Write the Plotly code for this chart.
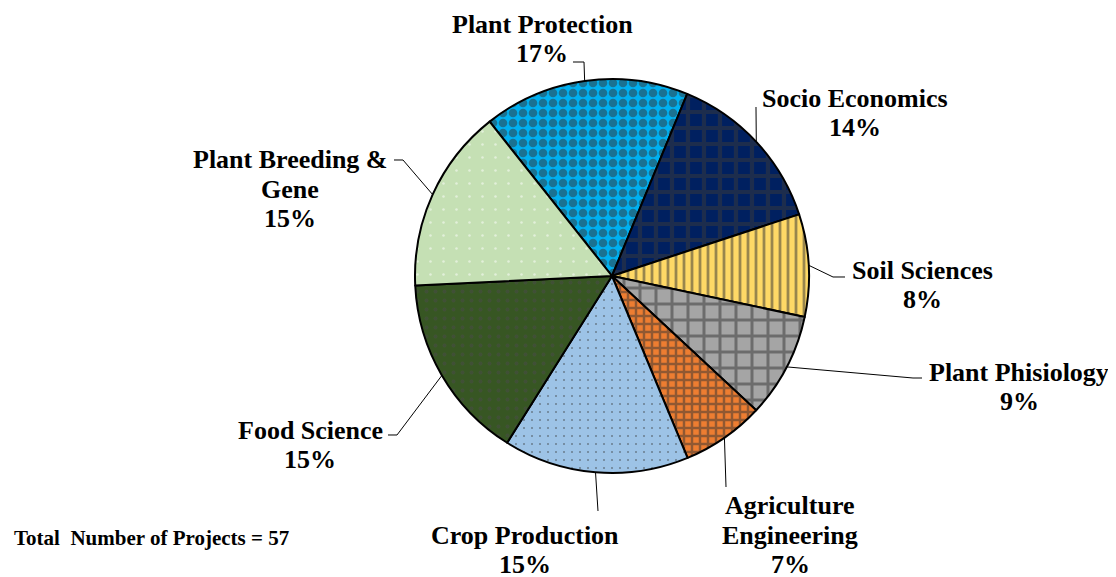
import math
import plotly.graph_objects as go

# ---------------- data ----------------
categories = ["Plant Protection", "Socio Economics", "Soil Sciences", "Plant Phisiology",
              "Agriculture Engineering", "Crop Production", "Food Science", "Plant Breeding & Gene"]
values = [16.9, 13.7, 8.4, 8.6, 6.8, 15.2, 15.3, 15.1]
label_lines = [["Plant Protection"], ["Socio Economics"], ["Soil Sciences"], ["Plant Phisiology"],
               ["Agriculture", "Engineering"], ["Crop Production"], ["Food Science"], ["Plant Breeding &", "Gene"]]
total_note = "Total&nbsp;&nbsp;Number of Projects = 57"

# ---------------- style / layout ----------------
W, H = 1116, 577
OFF = 8  # page offset of the figure
CX, CY, R = 612, 276, 197
ROT = -38.4
FONT = "Liberation Serif, Times New Roman, serif"
LS = 29.5

colors = ["#00B0F0", "#002060", "#FFD966", "#A5A5A5", "#ED7D31", "#9DC3E6", "#375623", "#C5E0B4"]
pat_shapes = [".", "+", "|", "+", "+", ".", ".", "."]
pat_fg = ["#333333", "#3a3a3a", "#333333", "#333333", "#333333", "#333333", "#4a4a4a", "#FFFFFF"]
pat_size = [10, 16, 8, 16, 8, 8, 9, 13]
pat_solid = [0.58, 0.45, 0.35, 0.34, 0.52, 0.05, 0.14, 0.03]

label_pos = [(542, 39), (855, 113), (922, 285), (1019, 387), (790, 535), (525, 550), (310, 445), (290, 189)]
leader_via = [[(584, 62), (573, 62)], [(756, 107)], [(833, 277), (845, 277)], [(913, 378), (922, 378)],
              [(726, 487)], [(598, 511)], [(397, 435), (388, 435)], [(403, 160), (394, 160)]]


def px(x, y):
    return (x - OFF) / W, 1 - (y - OFF) / H


fig = go.Figure()
d0 = px(CX - R, CY + R)
d1 = px(CX + R, CY - R)
fig.add_trace(go.Pie(
    labels=categories, values=values, sort=False, direction="clockwise", rotation=ROT,
    textinfo="none", hoverinfo="label+percent", showlegend=False,
    marker=dict(colors=colors, line=dict(color="black", width=2),
                pattern=dict(shape=pat_shapes, fgcolor=pat_fg, bgcolor=colors, size=pat_size,
                             solidity=pat_solid, fillmode="overlay")),
    domain=dict(x=[d0[0], d1[0]], y=[d0[1], d1[1]]),
))

total = sum(values)
annotations = []
shapes = []
start = ROT
for i, v in enumerate(values):
    span = v / total * 360
    mid = math.radians(start + span / 2)
    start += span
    sx, sy = CX + R * math.sin(mid), CY - R * math.cos(mid)
    pts = [(sx, sy)] + leader_via[i]
    path = ""
    for j, (x, y) in enumerate(pts):
        u, w = px(x, y)
        path += ("M" if j == 0 else " L") + f" {u:.5f} {w:.5f}"
    shapes.append(dict(type="path", xref="paper", yref="paper", path=path,
                       line=dict(color="black", width=1)))
    pct = round(v / total * 100)
    lines = label_lines[i] + [f"{pct}%"]
    n = len(lines)
    cx, cy = label_pos[i]
    for k, t in enumerate(lines):
        lx, ly = px(cx, cy + (k - (n - 1) / 2) * LS)
        annotations.append(dict(x=lx, y=ly, xref="paper", yref="paper", xanchor="center", yanchor="middle",
                                showarrow=False, align="center", text=f"<b>{t}</b>",
                                font=dict(family=FONT, size=26, color="black")))

nx, ny = px(12, 538)
annotations.append(dict(x=nx, y=ny, xref="paper", yref="paper", xanchor="left", yanchor="middle",
                        showarrow=False, text=f"<b>{total_note}</b>",
                        font=dict(family=FONT, size=21, color="black")))

fig.update_layout(width=W, height=H, margin=dict(l=0, r=0, t=0, b=0),
                  paper_bgcolor="white", plot_bgcolor="white",
                  annotations=annotations, shapes=shapes)
fig.write_html("out.html")
